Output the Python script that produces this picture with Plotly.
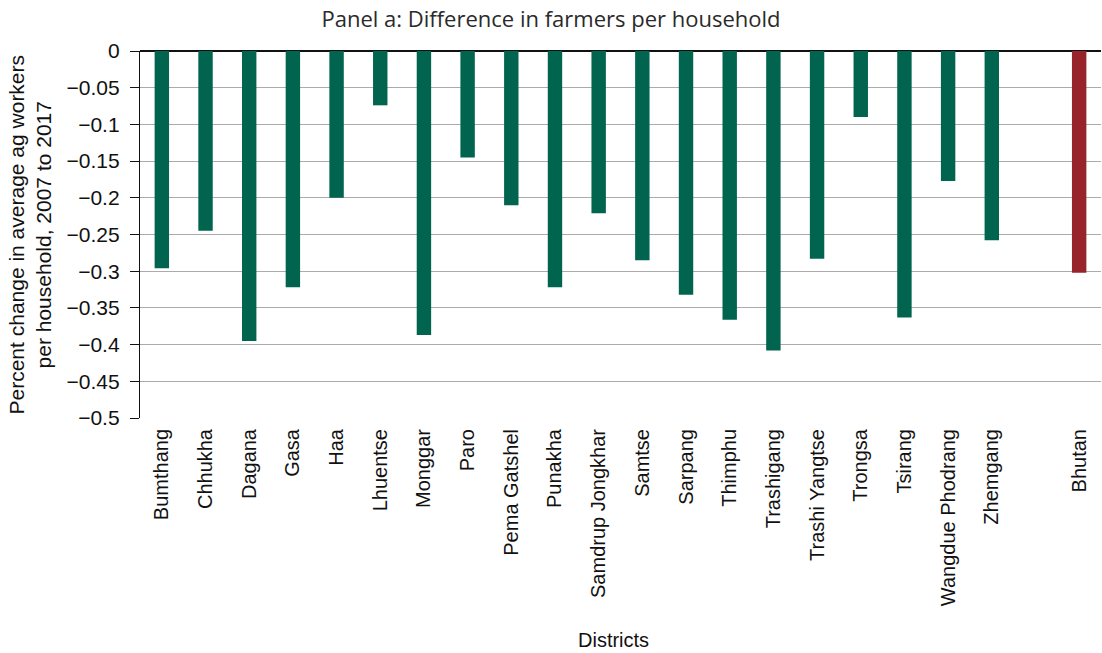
import plotly.graph_objects as go

districts = ["Bumthang", "Chhukha", "Dagana", "Gasa", "Haa", "Lhuentse", "Monggar", "Paro",
             "Pema Gatshel", "Punakha", "Samdrup Jongkhar", "Samtse", "Sarpang", "Thimphu",
             "Trashigang", "Trashi Yangtse", "Trongsa", "Tsirang", "Wangdue Phodrang", "Zhemgang"]
district_values = [-0.296, -0.245, -0.395, -0.322, -0.200, -0.074, -0.387, -0.145,
                   -0.210, -0.322, -0.221, -0.285, -0.332, -0.366,
                   -0.408, -0.283, -0.090, -0.363, -0.177, -0.258]
national = ["Bhutan"]
national_values = [-0.302]
spacer = [" "]

categories = districts + spacer + national
yticks = [0, -0.05, -0.1, -0.15, -0.2, -0.25, -0.3, -0.35, -0.4, -0.45, -0.5]

GREEN = "#00644F"
RED = "#97232B"
FONT = "Liberation Sans, Arial, sans-serif"
TXT = "#111111"

fig = go.Figure()
fig.add_trace(go.Bar(x=districts, y=district_values, marker_color=GREEN,
                     marker_line_width=0, showlegend=False))
fig.add_trace(go.Bar(x=national, y=national_values, marker_color=RED,
                     marker_line_width=0, showlegend=False))

fig.update_layout(
    width=1102, height=653,
    margin=dict(l=140, r=1, t=51, b=235, autoexpand=False),
    paper_bgcolor="white", plot_bgcolor="white",
    barmode="overlay", bargap=0.67,
    font=dict(family=FONT, size=20, color=TXT),
    title=dict(text="Panel a: Difference in farmers per household",
               x=0.5, xanchor="center", xref="container", y=0.971, yanchor="middle",
               font=dict(family="Open Sans, sans-serif", size=22, color="#2a2a2a")),
)

fig.update_xaxes(
    type="category", categoryorder="array", categoryarray=categories,
    range=[-0.5, len(categories) - 0.5],
    tickangle=-90, showgrid=False, showline=False, zeroline=False,
    ticks="", ticklabelstandoff=6,
    tickfont=dict(family=FONT, size=20, color=TXT),
    automargin=False,
)
fig.update_yaxes(
    range=[-0.5, 0], tickvals=yticks, ticktext=[("\u2212" + f"{abs(v):g}") if v < 0 else "0" for v in yticks],
    showgrid=True, gridcolor="#ababab", gridwidth=1.3,
    zeroline=True, zerolinecolor=TXT, zerolinewidth=1.5,
    showline=True, linecolor=TXT, linewidth=1.3,
    ticks="outside", ticklen=9, tickcolor=TXT, tickwidth=1.2, ticklabelstandoff=6,
    tickfont=dict(family=FONT, size=21, color=TXT),
    automargin=False,
)

# axis titles as annotations for precise placement
fig.add_annotation(text="Percent change in average ag workers<br>per household, 2007 to 2017",
                   xref="paper", yref="paper", x=(29 - 140) / 961, y=0.5,
                   xanchor="center", yanchor="middle", textangle=-90, showarrow=False,
                   font=dict(family=FONT, size=21, color=TXT))
fig.add_annotation(text="Districts", xref="paper", yref="paper",
                   x=(613 - 140) / 961, y=-(639.5 - 418) / 367,
                   xanchor="center", yanchor="middle", showarrow=False,
                   font=dict(family=FONT, size=20, color=TXT))

fig.write_html("out.html", config={"displayModeBar": False},
               post_script="document.body.style.margin='0';")
